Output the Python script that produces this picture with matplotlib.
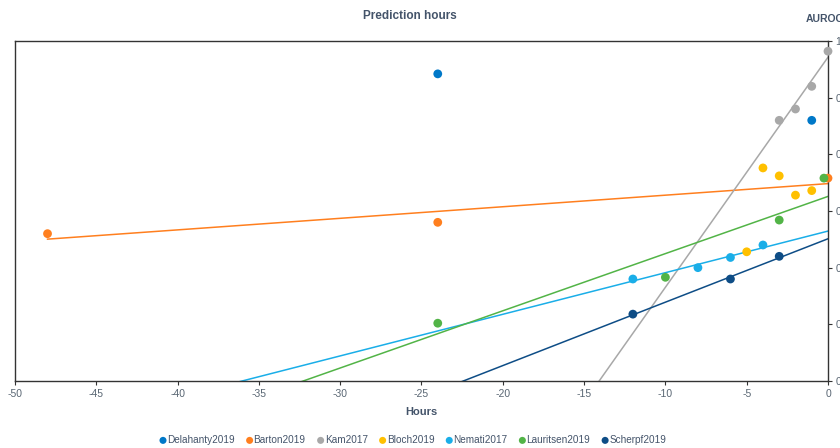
import numpy as np
import matplotlib
matplotlib.use("Agg")
import matplotlib.pyplot as plt
from matplotlib.ticker import FuncFormatter

plt.rcParams['font.family'] = ['Liberation Sans', 'DejaVu Sans']
plt.rcParams['axes.unicode_minus'] = False

# Data (hours before onset, AUROC)
names = ['Delahanty2019', 'Barton2019', 'Kam2017', 'Bloch2019',
         'Nemati2017', 'Lauritsen2019', 'Scherpf2019']
colors = ['#0078C8', '#FF7F1E', '#A8A8A8', '#FFC000',
          '#1AAEE8', '#52B447', '#0E4D86']

delahanty_x = [-24, -1]
delahanty_y = [0.971, 0.930]
barton_x = [-48, -24, 0]
barton_y = [0.830, 0.840, 0.879]
kam_x = [0, -1, -2, -3]
kam_y = [0.991, 0.960, 0.940, 0.930]
bloch_x = [-5, -4, -3, -2, -1]
bloch_y = [0.814, 0.888, 0.881, 0.864, 0.868]
nemati_x = [-12, -8, -6, -4]
nemati_y = [0.790, 0.800, 0.809, 0.820]
lauritsen_x = [-24, -10, -3, -0.25]
lauritsen_y = [0.751, 0.7915, 0.842, 0.879]
scherpf_x = [-12, -6, -3]
scherpf_y = [0.759, 0.790, 0.810]

xs = [delahanty_x, barton_x, kam_x, bloch_x, nemati_x, lauritsen_x, scherpf_x]
ys = [delahanty_y, barton_y, kam_y, bloch_y, nemati_y, lauritsen_y, scherpf_y]
# linear trendline start (None = no trendline)
trend_from = [None, -48, -50, None, -50, -50, -50]

fig = plt.figure(figsize=(8.4, 4.48), dpi=100)
ax = fig.add_axes([15 / 840, 67 / 448, 813 / 840, 340 / 448])

label_col = '#44546A'

for name, c, x, y, t0 in zip(names, colors, xs, ys, trend_from):
    if t0 is not None:
        k, b = np.polyfit(x, y, 1)
        lx = np.array([t0, 0])
        ax.plot(lx, k * lx + b, color=c, lw=1.1, zorder=2)
for name, c, x, y in zip(names, colors, xs, ys):
    ax.scatter(x, y, s=40, color=c, label=name, zorder=3, clip_on=False,
               edgecolors='none')

ax.set_xlim(-50, 0)
ax.set_ylim(0.7, 1.0)
ax.set_xticks(np.arange(-50, 1, 5))
ax.set_yticks(np.arange(0.7, 1.001, 0.05))
ax.yaxis.tick_right()
ax.yaxis.set_major_formatter(FuncFormatter(lambda v, p: f'{v:.2f}'.rstrip('0').rstrip('.')))
ax.tick_params(axis='both', labelsize=7.5, colors='#333333', labelcolor='#596673',
               length=3, width=0.8, pad=2.5)
for s in ax.spines.values():
    s.set_color('#333333')
    s.set_linewidth(1.0)

ax.set_xlabel('Hours', fontsize=8, fontweight='bold', color=label_col, labelpad=6)
fig.text(410 / 840, 1 - 16 / 448, 'Prediction hours', ha='center', va='center',
         fontsize=8.5, fontweight='bold', color=label_col)
fig.text(806 / 840, 1 - 19 / 448, 'AUROC', ha='left', va='center',
         fontsize=7.5, fontweight='bold', color=label_col)

leg = fig.legend(loc='center', bbox_to_anchor=(412 / 840, 1 - 440 / 448), ncol=7,
                 frameon=False, fontsize=7.2, handletextpad=-0.1, columnspacing=1.0,
                 markerscale=0.8, handlelength=1.0)
for t in leg.get_texts():
    t.set_color(label_col)

fig.savefig('out.png', dpi=100)
